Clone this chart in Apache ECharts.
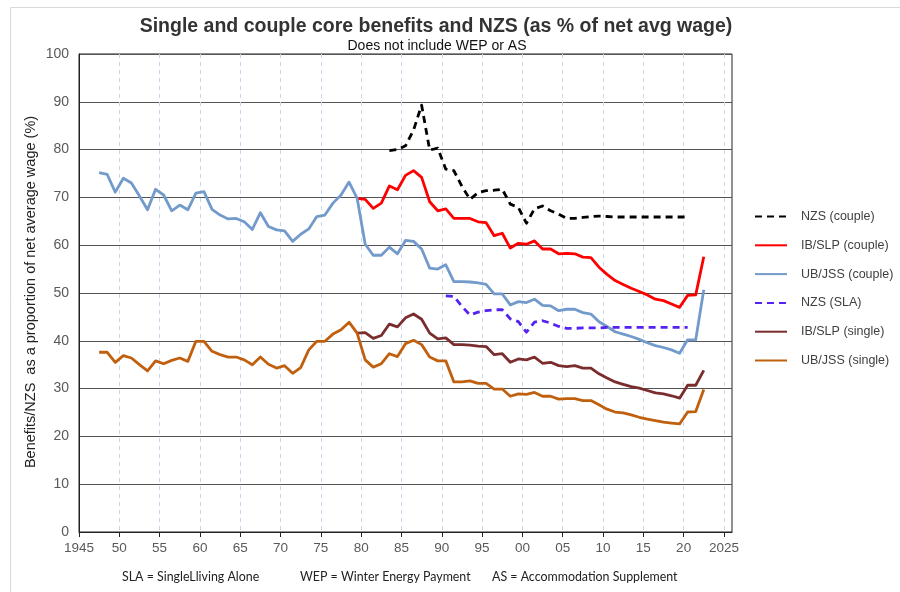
<!DOCTYPE html>
<html>
<head>
<meta charset="utf-8">
<script src="https://cdn.jsdelivr.net/npm/echarts@6/dist/echarts.min.js"></script>
<style>
  html, body { margin: 0; padding: 0; background: #fff; }
  #chart { width: 900px; height: 592px; }
</style>
</head>
<body>
<div id="chart"></div>
<script>
// values are annual, plotted at mid-year
const nzsCoupleStart = 1983
const nzsCouple = [79.8, 80.0, 80.8, 84.1, 89.3, 79.9, 80.3, 75.9, 75.6, 72.3, 69.6, 71.0, 71.4, 71.5, 71.7, 68.6, 67.9, 64.6, 67.6, 68.2,
  67.2, 66.5, 65.6, 65.6, 65.8, 66.0, 66.1, 66.0, 65.9, 65.9, 65.9, 65.9, 65.9, 65.9, 65.9, 65.9, 65.9, 65.9]

const ibCoupleStart = 1979
const ibCouple = [69.8, 69.6, 67.7, 68.8, 72.4, 71.6, 74.6, 75.6, 74.2, 69.1, 67.2, 67.6, 65.6, 65.6, 65.6, 64.9, 64.7, 62.0, 62.5, 59.4,
  60.4, 60.2, 60.9, 59.2, 59.2, 58.2, 58.3, 58.2, 57.5, 57.4, 55.4, 53.9, 52.6, 51.8, 51.0, 50.3, 49.6, 48.7, 48.4, 47.7,
  47.0, 49.5, 49.6, 57.6]

const ubCoupleStart = 1947
const ubCouple = [75.2, 74.8, 71.1, 74.0, 73.0, 70.3, 67.4, 71.7, 70.5, 67.2, 68.4, 67.4, 70.9, 71.2, 67.5, 66.3, 65.5, 65.6, 64.9, 63.3,
  66.8, 63.9, 63.2, 63.0, 60.8, 62.3, 63.4, 66.0, 66.3, 68.8, 70.5, 73.2, 69.8, 60.2, 57.9, 57.9, 59.6, 58.2, 61.0, 60.8,
  59.2, 55.2, 55.0, 55.9, 52.4, 52.4, 52.3, 52.1, 51.8, 49.8, 49.8, 47.5, 48.2, 48.0, 48.7, 47.4, 47.3, 46.3, 46.6, 46.6,
  45.9, 45.6, 44.0, 43.0, 41.9, 41.4, 40.9, 40.3, 39.6, 39.0, 38.6, 38.1, 37.4, 40.2, 40.2, 50.7]

const nzsSlaStart = 1990
const nzsSla = [49.4, 49.3, 47.2, 45.4, 46.0, 46.3, 46.5, 46.5, 44.6, 44.0, 41.8, 43.9, 44.2, 43.7, 43.0, 42.6, 42.6, 42.7, 42.7, 42.7,
  42.8, 42.8, 42.8, 42.8, 42.8, 42.8, 42.8, 42.8, 42.8, 42.8, 42.8]

const ibSingleStart = 1979
const ibSingle = [41.6, 41.7, 40.5, 41.1, 43.5, 42.9, 44.8, 45.6, 44.5, 41.6, 40.4, 40.6, 39.2, 39.2, 39.1, 38.9, 38.8, 37.1, 37.3, 35.5,
  36.2, 36.0, 36.6, 35.3, 35.5, 34.8, 34.6, 34.8, 34.3, 34.3, 33.1, 32.2, 31.4, 30.9, 30.4, 30.1, 29.6, 29.1, 28.9, 28.5,
  28.0, 30.7, 30.7, 33.8]

const ubSingleStart = 1947
const ubSingle = [37.6, 37.6, 35.5, 36.9, 36.4, 35.0, 33.7, 35.8, 35.2, 35.9, 36.4, 35.7, 39.9, 39.9, 37.8, 37.1, 36.6, 36.6, 36.0, 35.0,
  36.6, 35.1, 34.3, 34.8, 33.2, 34.4, 38.1, 39.9, 39.9, 41.4, 42.3, 43.9, 41.6, 36.0, 34.5, 35.2, 37.3, 36.7, 39.4, 40.1,
  39.2, 36.6, 35.8, 35.8, 31.4, 31.4, 31.6, 31.1, 31.1, 29.9, 29.9, 28.4, 28.9, 28.8, 29.2, 28.4, 28.4, 27.8, 27.9, 27.9,
  27.5, 27.5, 26.6, 25.7, 25.1, 24.9, 24.5, 24.0, 23.6, 23.3, 23.0, 22.8, 22.6, 25.1, 25.2, 29.8]

const seriesNames = ['NZS (couple)', 'IB/SLP (couple)', 'UB/JSS (couple)', 'NZS (SLA)', 'IB/SLP (single)', 'UB/JSS (single)']
const footnotes = ['SLA = SingleLliving Alone', 'WEP = Winter Energy Payment', 'AS = Accommodation Supplement']

function pts(start, vals) {
  return vals.map((v, i) => [start + i + 0.5, v])
}

function line(name, data, color, dashed) {
  return {
    name,
    type: 'line',
    data,
    symbol: 'none',
    lineStyle: { color, width: 2.8, type: dashed ? [7, 5] : 'solid', cap: 'butt', join: 'round' },
    itemStyle: { color },
    emphasis: { disabled: true },
    animation: false,
  }
}

const chart = echarts.init(document.getElementById('chart'), null, { renderer: 'canvas' })

chart.setOption({
  backgroundColor: '#fff',
  textStyle: { fontFamily: 'Liberation Sans, Arial, sans-serif' },
  title: [
    {
      text: 'Single and couple core benefits and NZS (as % of net avg wage)',
      left: 431,
      top: 12,
      textAlign: 'center',
      textStyle: { fontSize: 19.5, fontWeight: 'bold', color: '#333', fontFamily: 'Liberation Sans' },
    },
    {
      text: 'Does not include WEP or AS',
      left: 432,
      top: 34,
      textAlign: 'center',
      textStyle: { fontSize: 14, fontWeight: 'normal', color: '#111', fontFamily: 'Liberation Sans' },
    },
  ],
  grid: { left: 79, right: 168, top: 54, bottom: 60, show: true, borderColor: '#222', borderWidth: 1 },
  legend: {
    orient: 'vertical',
    left: 754,
    top: 210,
    padding: 0,
    itemWidth: 32,
    itemHeight: 14,
    itemGap: 15.8,
    data: seriesNames,
    itemStyle: { opacity: 0 },
    textStyle: { fontSize: 12.5, color: '#404040', padding: [0, 0, 0, 9] },
  },
  xAxis: {
    type: 'value',
    min: 1945,
    max: 2026,
    interval: 5,
    axisLine: { lineStyle: { color: '#222', width: 1 } },
    axisTick: { show: true, length: 5, lineStyle: { color: '#222' } },
    axisLabel: {
      color: '#595959',
      fontSize: 13.5,
      margin: 9,
      showMaxLabel: false,
      formatter: (v) => (v === 1945 || v === 2025 ? String(v) : String(v % 100).padStart(2, '0')),
    },
    splitLine: { show: true, showMaxLine: false, lineStyle: { color: '#c6d6ec', type: [4, 4], width: 1 } },
  },
  yAxis: {
    type: 'value',
    min: 0,
    max: 100,
    interval: 10,
    axisLine: { show: true, lineStyle: { color: '#222', width: 1 } },
    axisTick: { show: false },
    axisLabel: { color: '#595959', fontSize: 14, margin: 10 },
    splitLine: { lineStyle: { color: '#555', width: 1.2 } },
  },
  graphic: [
    {
      type: 'rect',
      shape: { x: 10.5, y: 7.5, width: 1000, height: 700 },
      style: { fill: null, stroke: '#d9d9d9', lineWidth: 1 },
      silent: true,
      z: -1,
    },
    {
      type: 'text',
      x: 31,
      y: 292,
      rotation: Math.PI / 2,
      style: {
        text: 'Benefits/NZS  as a proportion of net average wage (%)',
        fontSize: 14.5,
        fill: '#222',
        fontFamily: 'Liberation Sans',
        align: 'center',
        verticalAlign: 'middle',
      },
    },
    { type: 'text', x: 122, y: 577, style: { text: footnotes[0], fontSize: 12.4, fill: '#222', fontFamily: 'Lato', verticalAlign: 'middle' } },
    { type: 'text', x: 300, y: 577, style: { text: footnotes[1], fontSize: 12.4, fill: '#222', fontFamily: 'Lato', verticalAlign: 'middle' } },
    { type: 'text', x: 492, y: 577, style: { text: footnotes[2], fontSize: 12.4, fill: '#222', fontFamily: 'Lato', verticalAlign: 'middle' } },
  ],
  series: [
    line(seriesNames[0], pts(nzsCoupleStart, nzsCouple), '#000000', true),
    line(seriesNames[1], pts(ibCoupleStart, ibCouple), '#ff0000', false),
    line(seriesNames[2], pts(ubCoupleStart, ubCouple), '#729acb', false),
    line(seriesNames[3], pts(nzsSlaStart, nzsSla), '#5522f2', true),
    line(seriesNames[4], pts(ibSingleStart, ibSingle), '#7b2c2c', false),
    line(seriesNames[5], pts(ubSingleStart, ubSingle), '#c0600f', false),
  ],
})
</script>
</body>
</html>
